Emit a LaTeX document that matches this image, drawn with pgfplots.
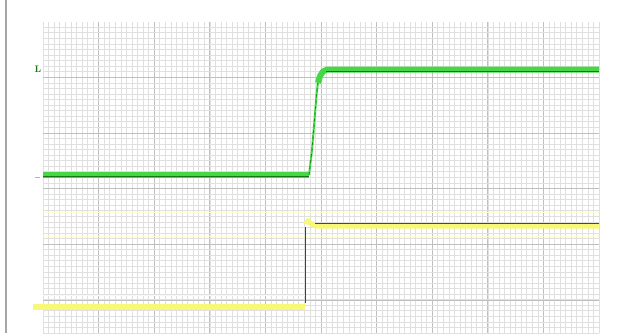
\documentclass[border=0pt]{standalone}
\usepackage{pgfplots}
\pgfplotsset{compat=1.18}
\definecolor{trgreen}{RGB}{70,215,70}
\definecolor{trdkgreen}{RGB}{20,120,20}
\definecolor{tryellow}{RGB}{248,248,120}
\definecolor{trhalo}{RGB}{252,252,215}
\begin{document}
\begin{tikzpicture}
\useasboundingbox (0,0) rectangle (618pt,333pt);
\fill[white] (0,0) rectangle (618pt,333pt);
\draw[gray!70, line width=1.2pt] (6pt,0) -- (6pt,333pt);
\begin{axis}[
  at={(43pt,0pt)}, anchor=south west,
  scale only axis, width=556pt, height=311pt,
  xmin=43, xmax=599, ymin=0, ymax=311,
  clip=false,
  axis line style={draw=none},
  tick style={draw=none},
  xticklabels={}, yticklabels={},
  xtick={98.6,154.2,209.8,265.4,321,376.6,432.2,487.8,543.4},
  ytick={33,88.6,144.2,199.8,255.4},
  minor xtick={43,48.56,...,599},
  minor ytick={0,5.56,...,311},
  grid=both,
  major grid style={gray!50, line width=0.7pt},
  minor grid style={gray!24, line width=0.6pt},
]
% faint yellow halo lines
\addplot[trhalo, line width=1pt] coordinates {(43,121) (599,121)};
\addplot[trhalo, line width=1pt] coordinates {(43,97) (599,97)};
\addplot[trhalo, line width=1pt] coordinates {(43,38) (305,38)};
% green trace
\addplot[trgreen, line width=6pt] coordinates {(43,158.5) (309,158.5)};
\addplot[trdkgreen, line width=1.4pt] coordinates {(43,156.5) (309,156.5)};
\addplot[trgreen, line width=2pt] coordinates {(309,158) (312,183) (314.5,213) (316.5,238) (318,251)};
\addplot[trdkgreen, line width=0.6pt, dashed] coordinates {(309,158) (312,183) (314.5,213) (316.5,238) (318,251)};
\addplot[trgreen, line width=6pt, line join=round] coordinates {(318,250) (320,257) (323,261.5) (327,263.5) (599,263.5)};
\addplot[trdkgreen, line width=1.4pt] coordinates {(326,261.5) (599,261.5)};
% yellow trace
\addplot[tryellow, line width=6pt] coordinates {(33,26.5) (305,26.5)};
\addplot[tryellow, line width=5pt, line join=round] coordinates {(306,109) (308,112.5) (310,110) (315,107) (599,107)};
\addplot[black!75, line width=1pt] coordinates {(305,30) (305,106)};
\addplot[black!60!olive, line width=0.7pt] coordinates {(315,109.3) (599,109.3)};
% markers
\node[text=trdkgreen, font=\bfseries\fontsize{9.5}{9.5}\selectfont] at (axis cs:38,263.5) {L};
\addplot[gray!60, line width=0.8pt] coordinates {(35,155.5) (40,155.5)};
\end{axis}
\end{tikzpicture}
\end{document}
